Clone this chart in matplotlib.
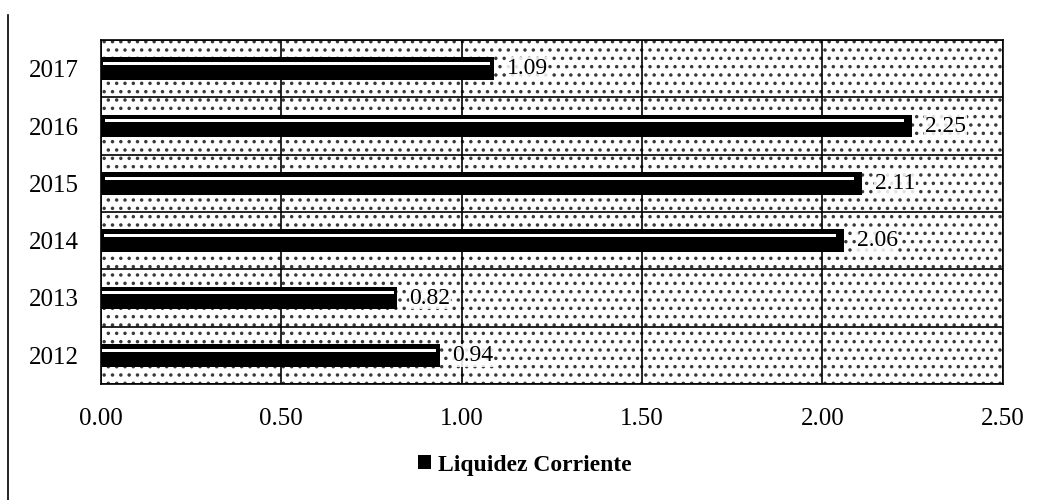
import matplotlib.pyplot as plt
from matplotlib.patches import Rectangle

years = ["2012", "2013", "2014", "2015", "2016", "2017"]
liquidez = [0.94, 0.82, 2.06, 2.11, 2.25, 1.09]
x_ticks = [0.0, 0.5, 1.0, 1.5, 2.0, 2.5]

plt.rcParams["font.family"] = ["Liberation Serif", "DejaVu Serif"]
plt.rcParams["font.size"] = 18
plt.rcParams["hatch.linewidth"] = 1.3

fig = plt.figure(figsize=(10.39, 5.0), dpi=100)
ax = fig.add_axes([0.097, 0.232, 0.868, 0.688])

# dotted background
ax.add_patch(Rectangle((0, 0), 1, 1, transform=ax.transAxes, facecolor="white",
                       edgecolor="#3a3a3a", hatch="..", linewidth=0, zorder=0))

pos = range(len(years))
ax.barh(pos, liquidez, height=0.4, color="black", zorder=3,
        label="Liquidez Corriente")
# white bevel highlight inside each bar
ax.barh([p + 0.09 for p in pos], [v * 0.985 for v in liquidez], height=0.05,
        left=[v * 0.005 for v in liquidez], color="white", zorder=4)

for p, v in zip(pos, liquidez):
    ax.text(v + 0.035, p, f"{v:.2f}", va="center", ha="left", fontsize=17,
            zorder=5, bbox=dict(facecolor="white", edgecolor="none", pad=0.5, alpha=0.85))

ax.set_xlim(0, 2.5)
ax.set_ylim(-0.5, 5.5)
ax.set_xticks(x_ticks)
ax.set_xticklabels([f"{t:.2f}" for t in x_ticks])
ax.set_yticks(list(pos))
ax.set_yticklabels(years)
ax.set_yticks([p + 0.5 for p in range(-1, len(years))], minor=True)
ax.tick_params(axis="both", which="both", length=0)
ax.tick_params(axis="x", pad=17)
ax.tick_params(axis="y", pad=16)
ax.grid(axis="x", which="major", color="black", linewidth=1.2, zorder=1)
ax.grid(axis="y", which="minor", color="black", linewidth=1.2, zorder=1)
for s in ax.spines.values():
    s.set_linewidth(1.2)

leg = fig.legend(loc="center", bbox_to_anchor=(0.505, 0.07), frameon=False,
                 handlelength=0.55, handleheight=0.55, handletextpad=0.3,
                 prop={"weight": "bold", "size": 17})

# left border of the original frame
fig.add_artist(plt.Line2D([0.008, 0.008], [0.0, 0.97], color="black", linewidth=1.2))

plt.savefig("out.png", dpi=100)
